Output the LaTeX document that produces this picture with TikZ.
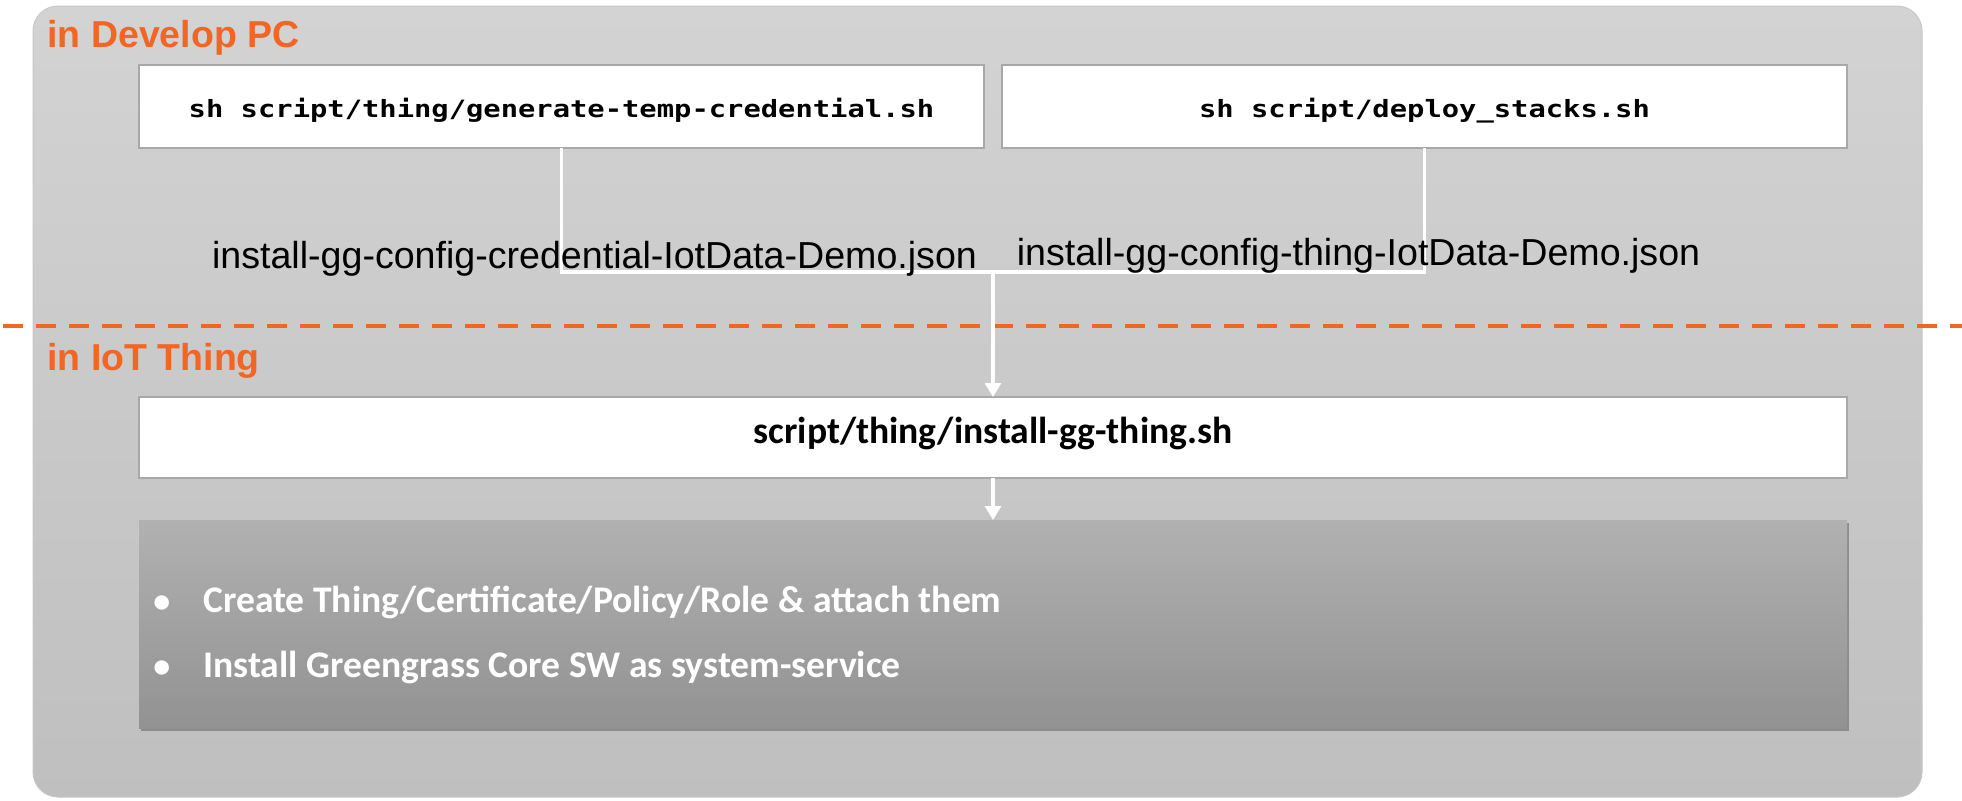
\documentclass[tikz,border=0pt]{standalone}
\usepackage{fontspec}
\setmainfont{Liberation Sans}
\newfontfamily\monof[FakeStretch=1.21]{DejaVu Sans Mono}
\newfontfamily\calib{Carlito}
\usetikzlibrary{arrows.meta,shadows}
\definecolor{orangeT}{RGB}{242,101,34}
\definecolor{outerTop}{RGB}{211,211,211}
\definecolor{outerBot}{RGB}{191,191,191}
\definecolor{innerTop}{RGB}{177,177,177}
\definecolor{innerBot}{RGB}{146,146,146}
\definecolor{boxBorder}{RGB}{168,168,168}
\tikzset{
  titletext/.style={inner sep=0pt, anchor=base west, text=orangeT, font=\fontsize{18.75}{20}\selectfont\bfseries},
  wbox/.style={draw=boxBorder, line width=1pt, fill=white, outer sep=0pt, inner sep=0pt},
  monotext/.style={font=\monof\bfseries\fontsize{11.9}{13}\selectfont},
  labeltext/.style={inner sep=0pt, anchor=base, font=\fontsize{18.8}{20}\selectfont},
  bullettext/.style={inner sep=0pt, anchor=base west, text=white, font=\calib\bfseries\fontsize{18.8}{20}\selectfont},
  wire/.style={draw=white, line width=1.6pt},
  warrow/.style={wire, -{Triangle[length=7pt,width=8pt]}},
}
\newcommand{\smallbullet}{\makebox[25pt][l]{\fontsize{17}{17}\selectfont•}}
\begin{document}
\begin{tikzpicture}[x=0.5pt,y=-0.5pt]
\useasboundingbox (0,0) rectangle (1962,800);
% outer panel
\path[draw=black!22, line width=0.5pt, rounded corners=12.5pt, top color=outerTop, bottom color=outerBot]
  (33,6) rectangle (1922,797);
% titles
\node[titletext] (t1) at (47,47) {in Develop PC};
\node[titletext] (t2) at (47,370) {in IoT Thing};
% boxes
\node[wbox, monotext, minimum width=422.5pt, minimum height=41.5pt, text height=11pt, text depth=0.5pt]
  (b1) at (561.5,106.5) {sh script/thing/generate-temp-credential.sh};
\node[wbox, monotext, minimum width=422.5pt, minimum height=41.5pt, text height=11pt, text depth=0.5pt]
  (b2) at (1424.5,106.5) {sh script/deploy\_stacks.sh};
\node[wbox, font=\calib\bfseries\fontsize{18.8}{20}\selectfont, minimum width=854pt, minimum height=40.5pt, text height=10pt, text depth=4.5pt]
  (b3) at (993,437.5) {script/thing/install-gg-thing.sh};
\node[draw=none, outer sep=0pt, inner sep=0pt, minimum width=854pt, minimum height=104pt,
  top color=innerTop, bottom color=innerBot,
  drop shadow={shadow xshift=1pt, shadow yshift=-1.5pt, opacity=0.45, fill=black!70}]
  (b4) at (993,624) {};
% dashed separator
\coordinate (dl) at (3,326);
\coordinate (dr) at (1962,326);
\draw[orangeT, line width=2pt, dash pattern=on 10pt off 6.5pt] (dl) -- (dr);
% connectors
\coordinate (j) at (993,272);
\draw[wire] (b1.south) |- (j);
\draw[wire] (b2.south) |- (j);
\draw[warrow] (j) -- (b3.north);
\draw[warrow] (b3.south) -- (b4.north);
% labels
\node[labeltext] (l1) at (594.5,268) {install-gg-config-credential-IotData-Demo.json};
\node[labeltext] (l2) at (1358.5,265) {install-gg-config-thing-IotData-Demo.json};
% bullets
\node[bullettext] (p1) at (153,612) {\smallbullet Create Thing/Certificate/Policy/Role \& attach them};
\node[bullettext] (p2) at (153,677) {\smallbullet Install Greengrass Core SW as system-service};
\end{tikzpicture}
\end{document}
